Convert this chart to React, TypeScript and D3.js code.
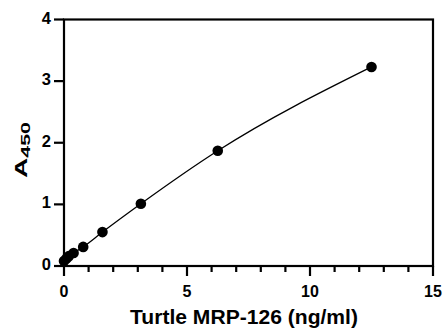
import React, { useEffect, useRef } from "react";
import * as d3 from "d3";

const concentrations = [0, 0.098, 0.195, 0.39, 0.78, 1.5625, 3.125, 6.25, 12.5];
const absorbance = [0.08, 0.12, 0.16, 0.21, 0.31, 0.55, 1.01, 1.87, 3.23];
const xTicks = [0, 5, 10, 15];
const yTicks = [0, 1, 2, 3, 4];

const W = 444;
const H = 329;

export default function App() {
  const svgRef = useRef<SVGSVGElement>(null);

  useEffect(() => {
    if (!svgRef.current) return;
    const svg = d3.select(svgRef.current);
    svg.selectAll("*").remove();

    const x = d3.scaleLinear().domain([0, 15]).range([64, 433]);
    const y = d3.scaleLinear().domain([0, 4]).range([266, 19.5]);
    const font = "Arial, 'Liberation Sans', sans-serif";

    const points = concentrations.map((c, i) => ({ c, a: absorbance[i] }));

    // fitted curve
    const line = d3
      .line<{ c: number; a: number }>()
      .x((d) => x(d.c))
      .y((d) => y(d.a))
      .curve(d3.curveMonotoneX);
    svg
      .append("path")
      .datum(points)
      .attr("d", line)
      .attr("fill", "none")
      .attr("stroke", "#000")
      .attr("stroke-width", 1.3);

    // frame
    const frame = svg.append("g").attr("stroke", "#000").attr("stroke-width", 2.2);
    frame.append("rect")
      .attr("x", x(0))
      .attr("y", y(4))
      .attr("width", x(15) - x(0))
      .attr("height", y(0) - y(4))
      .attr("fill", "none");

    // x ticks (major + minor)
    frame
      .selectAll("line.xt")
      .data(d3.range(0, 16))
      .enter()
      .append("line")
      .attr("x1", (d) => x(d))
      .attr("x2", (d) => x(d))
      .attr("y1", y(0))
      .attr("y2", (d) => y(0) + (d % 5 === 0 ? 10 : 6));

    svg
      .selectAll("text.xt")
      .data(xTicks)
      .enter()
      .append("text")
      .attr("x", (d) => x(d))
      .attr("y", 297)
      .attr("text-anchor", "middle")
      .style("font-family", font)
      .style("font-size", "16px")
      .style("font-weight", "bold")
      .text((d) => d);

    // y ticks
    frame
      .selectAll("line.yt")
      .data(yTicks)
      .enter()
      .append("line")
      .attr("x1", x(0) - 10)
      .attr("x2", x(0))
      .attr("y1", (d) => y(d))
      .attr("y2", (d) => y(d));

    svg
      .selectAll("text.yt")
      .data(yTicks)
      .enter()
      .append("text")
      .attr("x", 51)
      .attr("y", (d) => y(d) + 4)
      .attr("text-anchor", "end")
      .style("font-family", font)
      .style("font-size", "16.5px")
      .style("font-weight", "bold")
      .text((d) => d);

    // points
    svg
      .selectAll("circle")
      .data(points)
      .enter()
      .append("circle")
      .attr("cx", (d) => x(d.c))
      .attr("cy", (d) => y(d.a))
      .attr("r", 5.3)
      .attr("fill", "#000");

    // axis titles
    svg
      .append("text")
      .attr("x", 244)
      .attr("y", 324)
      .attr("text-anchor", "middle")
      .attr("textLength", 228)
      .attr("lengthAdjust", "spacingAndGlyphs")
      .style("font-family", font)
      .style("font-size", "19.5px")
      .style("font-weight", "bold")
      .text("Turtle MRP-126 (ng/ml)");

    const yt = svg
      .append("text")
      .attr("transform", "translate(27,150) rotate(-90)")
      .attr("text-anchor", "middle")
      .attr("textLength", 56)
      .attr("lengthAdjust", "spacingAndGlyphs")
      .style("font-family", font)
      .style("font-size", "17px")
      .style("font-weight", "bold");
    yt.append("tspan").text("A");
    yt.append("tspan").attr("dy", 3).style("font-size", "13px").text("450");
  }, []);

  return (
    <svg
      ref={svgRef}
      width={W}
      height={H}
      style={{ position: "absolute", left: 0, top: 0, background: "#fff" }}
    />
  );
}
